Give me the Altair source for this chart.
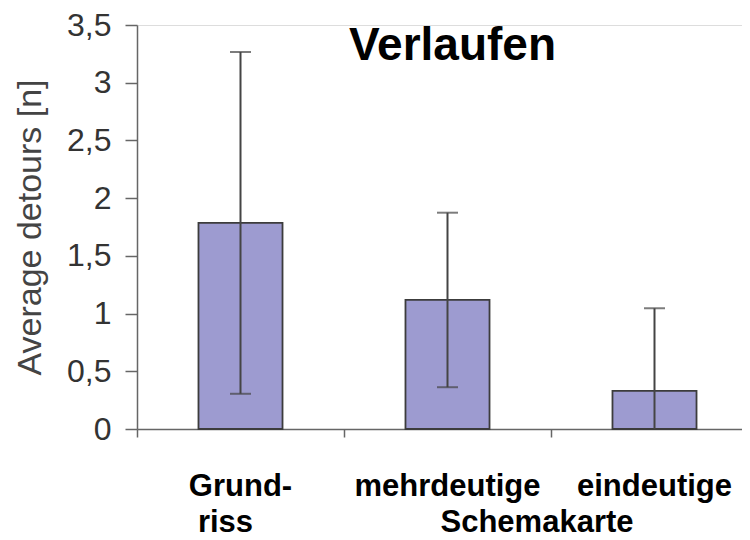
import altair as alt
import pandas as pd

categories = ["Grundriss", "mehrdeutige", "eindeutige"]
means = [1.785, 1.118, 0.33]
err_hi = [3.266, 1.874, 1.046]
err_lo = [0.305, 0.362, -0.386]
label_line1 = ["Grund-", "mehrdeutige", "eindeutige"]
label_line2 = ["riss", "", ""]
group_label = "Schemakarte"
group_at = "eindeutige"
y_ticks = [0, 0.5, 1, 1.5, 2, 2.5, 3, 3.5]

FONT = "Liberation Sans"
AX = "#666666"

df = pd.DataFrame({
    "cat": categories, "mean": means, "hi": err_hi, "lo": err_lo,
    "l1": label_line1, "l2": label_line2,
})
grp = pd.DataFrame({"cat": [group_at], "t": [group_label]})

xscale = alt.Scale(domain=categories, range=[0, 621], paddingInner=0, paddingOuter=0)
yscale = alt.Scale(domain=[0, 3.5], nice=False, zero=True)

x_axis = alt.Axis(
    labels=False, title=None, bandPosition=0, tickSize=8, tickColor=AX,
    domainColor=AX, domainWidth=1.5, tickWidth=1.5,
)
y_axis = alt.Axis(
    values=y_ticks, labelExpr="replace(toString(datum.value), '.', ',')",
    grid=False, tickSize=12, tickColor=AX, domainColor=AX, domainWidth=1.5, tickWidth=1.5,
    labelFont=FONT, labelFontSize=32, labelColor="#333333", labelPadding=14,
    title="Average detours [n]", titleFont=FONT, titleFontSize=34,
    titleFontWeight="normal", titleColor="#444444",
    titleX=-107, titleY=202, titleBaseline="middle", titleAngle=-90,
)

base = alt.Chart(df)

bars = base.mark_bar(
    width=alt.RelativeBandSize(0.406), color="#9d9bd0", stroke="#3c3c3c", strokeWidth=1.8,
).encode(
    x=alt.X("cat:N", scale=xscale, axis=x_axis, sort=categories),
    y=alt.Y("mean:Q", scale=yscale, axis=y_axis),
)

rule = base.mark_rule(color="#444444", strokeWidth=2, clip=True).encode(
    x=alt.X("cat:N", scale=xscale, sort=categories),
    y=alt.Y("lo:Q", scale=yscale),
    y2="hi:Q",
)
cap_hi = base.mark_tick(color="#444444", thickness=2, size=21, orient="horizontal", clip=True).encode(
    x=alt.X("cat:N", scale=xscale, sort=categories),
    y=alt.Y("hi:Q", scale=yscale),
)
cap_lo = base.mark_tick(color="#444444", thickness=2, size=21, orient="horizontal", clip=True).encode(
    x=alt.X("cat:N", scale=xscale, sort=categories),
    y=alt.Y("lo:Q", scale=yscale),
)

lab1 = base.mark_text(
    font=FONT, fontSize=31, fontWeight="bold", color="#000000", baseline="alphabetic",
).encode(
    x=alt.X("cat:N", scale=xscale, sort=categories),
    y=alt.value(471),
    text="l1:N",
)
lab2 = base.mark_text(
    font=FONT, fontSize=31, fontWeight="bold", color="#000000", baseline="alphabetic", dx=-15,
).encode(
    x=alt.X("cat:N", scale=xscale, sort=categories),
    y=alt.value(507),
    text="l2:N",
)
lab3 = alt.Chart(grp).mark_text(
    font=FONT, fontSize=31, fontWeight="bold", color="#000000", baseline="alphabetic", dx=-14,
).encode(
    x=alt.X("cat:N", scale=xscale, sort=categories, bandPosition=0),
    y=alt.value(507),
    text="t:N",
)

chart = alt.layer(bars, rule, cap_hi, cap_lo, lab1, lab2, lab3).properties(
    width=605,
    height=404,
    title=alt.TitleParams(
        "Verlaufen", font=FONT, fontSize=46, fontWeight="bold", color="#000000",
        anchor="middle", dx=13, dy=65, offset=4,
    ),
    autosize=alt.AutoSizeParams(type="none"),
    padding={"left": 129, "top": 17, "right": 0, "bottom": 111},
).configure_view(stroke=None).configure(background="#ffffff")

chart.save("out.html", embed_options={"renderer": "svg", "actions": False})
